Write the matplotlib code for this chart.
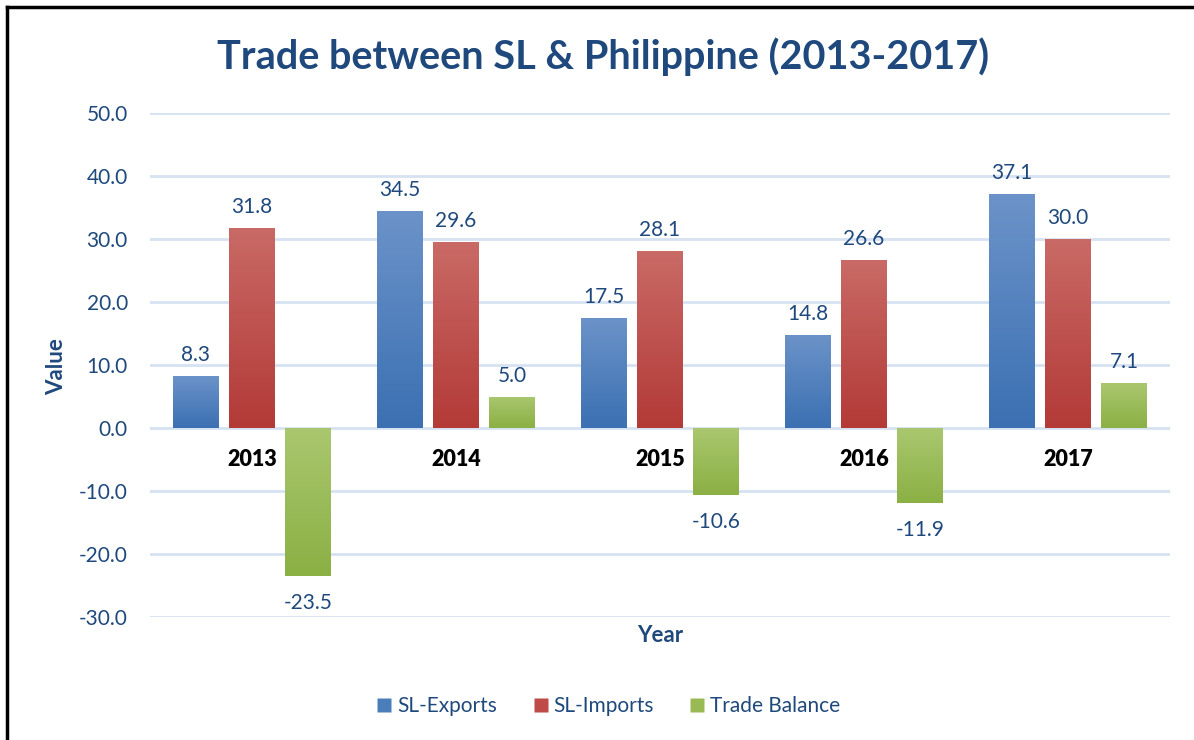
import numpy as np
import matplotlib
matplotlib.use("Agg")
import matplotlib.pyplot as plt
from matplotlib.colors import LinearSegmentedColormap
from matplotlib.lines import Line2D

years = ["2013", "2014", "2015", "2016", "2017"]
exports = [8.3, 34.5, 17.5, 14.8, 37.1]
imports = [31.8, 29.6, 28.1, 26.6, 30.0]
balance = [-23.5, 5.0, -10.6, -11.9, 7.1]
series_names = ["SL-Exports", "SL-Imports", "Trade Balance"]

plt.rcParams['font.family'] = ['Lato', 'DejaVu Sans']
TXT = '#1F497D'

# (top color, bottom color, legend color)
grad = [("#6C93C9", "#3B70B2", "#4A7EBB"),
        ("#C96A66", "#B33A37", "#BE4B48"),
        ("#AAC76F", "#8BB044", "#98B954")]

fig = plt.figure(figsize=(11.94, 7.40), dpi=100)
ax = fig.add_axes([150/1194, 1-617/740, 1020/1194, 504/740])
ax.set_xlim(-0.5, 4.5)
ax.set_ylim(-30, 50)

x = np.arange(len(years))
w = 0.225
off = 0.275
g = np.linspace(0, 1, 256).reshape(-1, 1)
for k, vals in enumerate([exports, imports, balance]):
    bars = ax.bar(x + (k-1)*off, vals, width=w, color='none', edgecolor='none', zorder=3)
    top, bot, _ = grad[k]
    cmap = LinearSegmentedColormap.from_list(f"g{k}", [bot, top])
    for b, v in zip(bars, vals):
        x0 = b.get_x(); x1 = x0 + b.get_width()
        y0 = min(0, v); y1 = max(0, v)
        im = ax.imshow(g, cmap=cmap, origin='lower', extent=[x0, x1, y0, y1],
                       aspect='auto', zorder=3, interpolation='bilinear')
        im.set_clip_path(b)
        dy = 21 if v >= 0 else -27
        ax.annotate(f"{v:.1f}", (b.get_x()+b.get_width()/2, v), xytext=(0, dy),
                    textcoords='offset pixels', ha='center', va='center',
                    fontsize=15, color=TXT)

ax.set_xlim(-0.5, 4.5)
ax.set_ylim(-30, 50)

for i, yr in enumerate(years):
    ax.annotate(yr, (i, 0), xytext=(0, -32), textcoords='offset pixels',
                ha='center', va='center', fontsize=15.5, fontweight='heavy', color='black', zorder=5)

ax.set_yticks(np.arange(-30, 51, 10))
ax.set_yticklabels([f"{t:.1f}" for t in np.arange(-30, 51, 10)])
ax.set_xticks([])
ax.tick_params(axis='y', length=0, pad=16, labelsize=15, labelcolor=TXT)
ax.grid(axis='y', color='#D6E2F2', linewidth=2, zorder=0)
ax.set_axisbelow(True)
for s in ax.spines.values():
    s.set_visible(False)

fig.text(57/1194, 1-367/740, "Value", rotation=90, ha='center', va='center',
         fontsize=16, fontweight='bold', color=TXT)
fig.text(660/1194, 1-636/740, "Year", ha='center', va='center',
         fontsize=16, fontweight='bold', color=TXT)
fig.text(603/1194, 1-57/740, "Trade between SL & Philippine (2013-2017)", ha='center', va='center',
         fontsize=28.5, fontweight='bold', color=TXT)

handles = [Line2D([], [], marker='s', linestyle='none', markersize=10,
                  markerfacecolor=grad[k][2], markeredgecolor='none') for k in range(3)]
fig.legend(handles, series_names, loc='center', bbox_to_anchor=(607/1194, 1-706/740),
           ncol=3, frameon=False, fontsize=15, labelcolor=TXT, handletextpad=0.1,
           columnspacing=1.6, handlelength=1.0)

# figure border (left and top visible)
fig.add_artist(Line2D([7/1194, 7/1194], [0, 1-7/740], color='black', linewidth=2.5,
                      transform=fig.transFigure))
fig.add_artist(Line2D([7/1194, 1], [1-7/740, 1-7/740], color='black', linewidth=2.5,
                      transform=fig.transFigure))

fig.savefig("out.png", dpi=100)
